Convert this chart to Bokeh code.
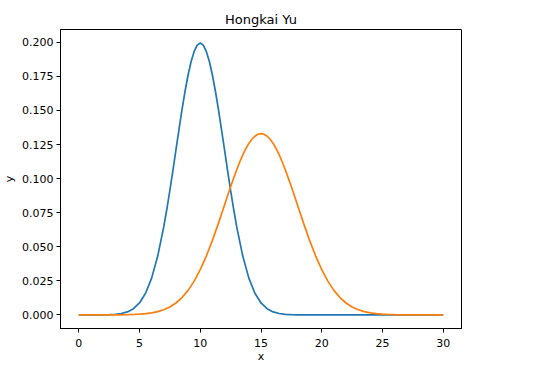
from bokeh.plotting import figure
from bokeh.models import FixedTicker, NumeralTickFormatter, Range1d, Title
from bokeh.embed import file_html
from bokeh.resources import INLINE

# x positions: half steps, with quarter steps around each peak
blue_x = ([i * 0.5 for i in range(0, 14)] + [7 + i * 0.25 for i in range(0, 25)]
          + [13.5 + i * 0.5 for i in range(0, 34)])
orange_x = ([i * 0.5 for i in range(0, 24)] + [12 + i * 0.25 for i in range(0, 25)]
            + [18.5 + i * 0.5 for i in range(0, 24)])

# blue curve (peak ~0.1995 at x=10)
blue = ([0.0000007, 0.0000025, 0.000008, 0.000024, 0.000067, 0.000177, 0.000436, 0.001015,
         0.002216, 0.004547, 0.008764, 0.01587, 0.02700, 0.04315]
        + [0.06476, 0.07751, 0.09132, 0.10594, 0.1210, 0.13602, 0.1506, 0.16409,
           0.1760, 0.18593, 0.1933, 0.19792, 0.19947, 0.19792, 0.1933, 0.18593,
           0.1760, 0.16409, 0.1506, 0.13602, 0.1210, 0.10594, 0.09132, 0.07751, 0.06476]
        + [0.04315, 0.02700, 0.01587, 0.008764, 0.004547, 0.002216, 0.001015, 0.000436,
           0.000177, 0.000067, 0.000024, 0.000008, 0.0000025, 0.0000007, 0.0000002, 0.0,
           0.0, 0.0, 0.0, 0.0, 0.0, 0.0, 0.0, 0.0, 0.0, 0.0, 0.0, 0.0, 0.0, 0.0, 0.0, 0.0,
           0.0, 0.0])

# orange curve (peak ~0.133 at x=15)
orange = ([0.0000005, 0.0000011, 0.0000025, 0.0000053, 0.0000111, 0.0000226, 0.0000446, 0.0000856,
           0.00016, 0.000291, 0.000514, 0.000883, 0.001477, 0.002401, 0.003798, 0.005843,
           0.008741, 0.01272, 0.01800, 0.02477, 0.03317, 0.04318, 0.05467, 0.06733]
          + [0.08066, 0.08737, 0.09397, 0.10037, 0.1065, 0.11217, 0.1174, 0.12193,
             0.1258, 0.12889, 0.1311, 0.13252, 0.13298, 0.13252, 0.1311, 0.12889,
             0.1258, 0.12193, 0.1174, 0.11217, 0.1065, 0.10037, 0.09397, 0.08737, 0.08066]
          + [0.06733, 0.05467, 0.04318, 0.03317, 0.02477, 0.01800, 0.01272, 0.008741,
             0.005843, 0.003798, 0.002401, 0.001477, 0.000883, 0.000514, 0.000291, 0.00016,
             0.0000856, 0.0000446, 0.0000226, 0.0000111, 0.0000053, 0.0000025, 0.0000011, 0.0000005])

x_ticks = [0, 5, 10, 15, 20, 25, 30]
y_ticks = [0.0, 0.025, 0.05, 0.075, 0.1, 0.125, 0.15, 0.175, 0.2]

FONT = "DejaVu Sans"

p = figure(frame_width=401, frame_height=299, output_backend="svg", toolbar_location=None,
           x_range=Range1d(-1.5, 31.5), y_range=Range1d(-0.00997, 0.2094),
           min_border_left=55, min_border_top=29, min_border_right=50, min_border_bottom=20)
p.title = Title(text="Hongkai Yu", align="center", text_font=FONT, text_font_size="13px",
                text_font_style="normal", text_color="black", standoff=6)

p.line(blue_x, blue, line_color="#1f77b4", line_width=1.7)
p.line(orange_x, orange, line_color="#ff7f0e", line_width=1.7)

p.xgrid.visible = False
p.ygrid.visible = False
p.outline_line_color = "black"
p.outline_line_width = 1
p.outline_line_alpha = 1.0
p.background_fill_color = "white"
p.border_fill_color = "white"

p.xaxis.ticker = FixedTicker(ticks=x_ticks)
p.yaxis.ticker = FixedTicker(ticks=y_ticks)
p.yaxis.formatter = NumeralTickFormatter(format="0.000")
p.xaxis.axis_label = "x"
p.yaxis.axis_label = "y"

for ax in (p.xaxis[0], p.yaxis[0]):
    ax.axis_line_color = "black"
    ax.major_tick_line_color = "black"
    ax.minor_tick_line_color = None
    ax.major_tick_out = 4
    ax.major_tick_in = 0
    ax.major_label_text_font = FONT
    ax.major_label_text_font_size = "11px"
    ax.major_label_text_color = "black"
    ax.axis_label_text_font = FONT
    ax.axis_label_text_font_size = "11px"
    ax.axis_label_text_font_style = "normal"
    ax.axis_label_text_color = "black"

p.xaxis.major_label_standoff = 6
p.xaxis.axis_label_standoff = 0
p.yaxis.major_label_standoff = 3
p.yaxis.axis_label_standoff = 3

open("out.html", "w").write(file_html(p, INLINE))
